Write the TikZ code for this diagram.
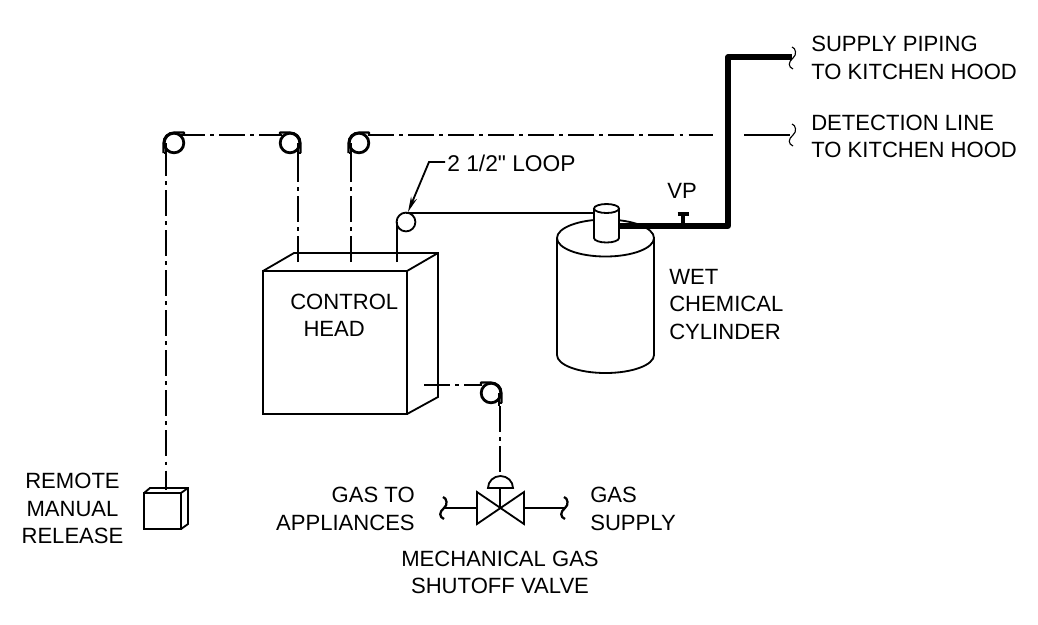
\documentclass[tikz,border=0pt]{standalone}
\usepackage{fontspec}
\newfontfamily\drawfont{Liberation Sans}
\usetikzlibrary{arrows.meta}
\tikzset{
  label/.style={inner sep=0pt, font=\drawfont\fontsize{15.7}{19.4}\selectfont},
  line/.style={line width=1.3pt},
  cable/.style={line width=1.3pt, dash pattern=on 18.5pt off 3.6pt on 2.8pt off 3.6pt},
  pipe/.style={line width=3.6pt},
  pulley/.style={circle, draw, line width=2pt, inner sep=0pt, minimum size=4.9mm},
  wrap/.pic={
    \draw[line width=1.5pt, line join=round] (-10.5,10) -- (-10.5,0) .. controls (-10.5,-6) and (-6,-10.5) .. (0,-10.5) -- (10,-10.5) -- (10,-8.5);
    \draw[line] (-8,0) -- (-8,13);
    \draw[line width=1.5pt] (-10.5,10) -- (-8,10);
  },
  break/.pic={
    \draw (-1,-11) .. controls (3,-10) and (4,-3) .. (0,0) .. controls (-5,4) and (-5,9) .. (0,11);
  }
}
\begin{document}
\begin{tikzpicture}[x=0.25mm, y=-0.25mm]
    \useasboundingbox (0,0) rectangle (1038,624);

    % pulleys
    \node [pulley] (p1) at (174,143) {};
    \node [pulley] (p2) at (290,143) {};
    \node [pulley] (p3) at (359,143) {};
    \node [pulley] (p4) at (491,393) {};
    \pic at (p1) {wrap};
    \pic [xscale=-1] at (p2) {wrap};
    \pic at (p3) {wrap};
    \pic [xscale=-1] at (p4) {wrap};

    % control head
    \coordinate (c1) at (298,262);
    \coordinate (c2) at (351,262);
    \coordinate (c3) at (397,262);
    \coordinate (c4) at (424,385);
    \draw [line] (263,271) rectangle (407,414);
    \draw [line] (263,271) -- (294,253) -- (438,253) -- (438,397) -- (407,414);
    \draw [line] (407,271) -- (438,253);

    % remote release
    \coordinate (r1) at (166,490);
    \draw [line] (144,493) rectangle (181,529);
    \draw [line] (144,493) -- (150,488) -- (188,488) -- (188,524) -- (181,529);
    \draw [line] (181,493) -- (188,488);

    % cables
    \draw [cable] (179,135) -- (282,135);
    \draw [cable] (166,150) -- (r1);
    \draw [cable] (c1) -- (298,150);
    \draw [cable] (c2) -- (351,150);
    \draw [cable] (368,135) -- (713,135);
    \draw [cable] (c4) -- (482,385);
    \draw [cable] (500,406) -- (500,476);

    % loop
    \node [circle, draw, line width=1.3pt, inner sep=0pt, minimum size=4.7mm] (loop) at (406,222) {};
    \draw [line] (c3) -- (397,222);
    \draw [line] (406,213) -- (594,213);
    \draw [line, -{Stealth[length=11pt, width=4.5pt]}] (445,162) -- (429,162) -- (408,212);

    % cylinder
    \draw [line, fill=white] (557,238) -- (557,355) arc [start angle=180, end angle=0, x radius=48.5, y radius=18] -- (654,238);
    \draw [line, fill=white] (605.5,238) ellipse [x radius=48.5, y radius=18.5];
    \draw [line, fill=white] (594,208.5) -- (594,238) arc [start angle=180, end angle=0, x radius=12.5, y radius=4.5] -- (619,208.5);
    \draw [line, fill=white] (606.5,208.5) ellipse [x radius=12.5, y radius=4.5];

    % supply pipe
    \coordinate (s1) at (619,226);
    \coordinate (s2) at (792,57);
    \draw [pipe, line join=round] (s1) -- (728,226) -- (728,57) -- (s2);
    \draw [line width=2.2pt] (683,226) -- (683,214);
    \draw [line width=3pt] (677.5,214) -- (689,214);
    \pic [line width=0.8pt] at (793,58) {break};

    % detection line
    \draw [line width=0.9pt] (744,135) -- (790,135);
    \pic [line width=0.8pt] at (793,135) {break};

    % gas valve
    \draw [line] (477,492) -- (477,524) -- (524,492) -- (524,524) -- cycle;
    \draw [line] (500,488) -- (500,508);
    \draw [line, fill=white] (488,488) arc [start angle=180, end angle=360, x radius=12.5, y radius=12] -- cycle;
    \draw [line width=1.8pt] (443,508) -- (477,508);
    \draw [line width=1.8pt] (524,508) -- (565,508);
    \pic [line width=1.6pt] at (444,508) {break};
    \pic [line width=1.6pt] at (565,508) {break};

    % labels
    \node [label, anchor=west, align=left] (supply) at (811,58) {SUPPLY PIPING\\TO KITCHEN HOOD};
    \node [label, anchor=west, align=left] (detect) at (811,136.5) {DETECTION LINE\\TO KITCHEN HOOD};
    \node [label, anchor=west, font=\drawfont\fontsize{16.2}{19.4}\selectfont] (looplabel) at (447,163) {2 1/2" LOOP};
    \node [label] (vp) at (682,190.5) {VP};
    \node [label, anchor=west, align=left] (wet) at (669,304.5) {WET\\CHEMICAL\\CYLINDER};
    \node [label, anchor=west, align=left] (head) at (290,315) {CONTROL\\\hspace*{9.4pt}HEAD};
    \node [label, align=center] (remote) at (72.5,508.5) {REMOTE\\MANUAL\\RELEASE};
    \node [label, anchor=east, align=right] (gasto) at (415,509) {GAS TO\\APPLIANCES};
    \node [label, anchor=west, align=left] (gassupply) at (590,509) {GAS\\SUPPLY};
    \node [label, align=center] (valve) at (500,572.5) {MECHANICAL GAS\\SHUTOFF VALVE};
\end{tikzpicture}
\end{document}
